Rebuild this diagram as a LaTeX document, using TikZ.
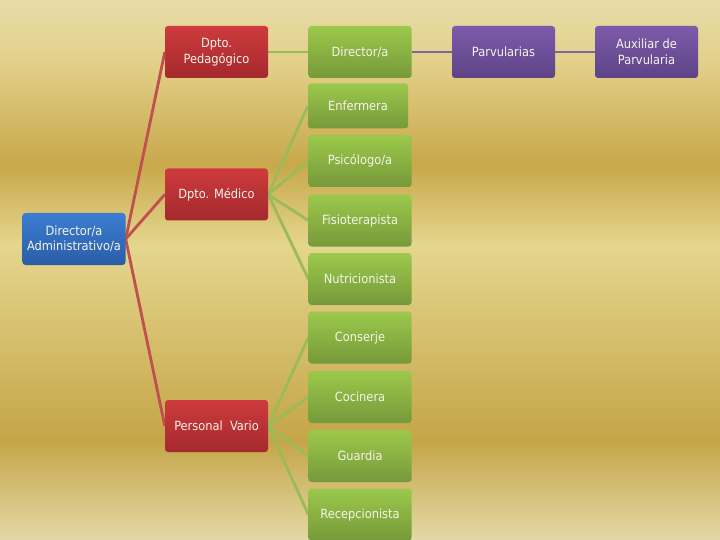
\documentclass[tikz,border=0pt]{standalone}
\usepackage{fontspec}
\setmainfont{DejaVu Sans Condensed}
\definecolor{bgA}{HTML}{E7DBA8}
\definecolor{bgB}{HTML}{E3D18B}
\definecolor{bgC}{HTML}{C8A84B}
\definecolor{bgD}{HTML}{E5D68E}
\definecolor{bgE}{HTML}{C5A548}
\definecolor{bgF}{HTML}{E3D8A6}
\definecolor{redT}{HTML}{CE3B3D}
\definecolor{redB}{HTML}{A4292D}
\definecolor{grnT}{HTML}{9CC94B}
\definecolor{grnB}{HTML}{76993A}
\definecolor{purT}{HTML}{7D5BAB}
\definecolor{purB}{HTML}{5E4386}
\definecolor{bluT}{HTML}{3C7DD2}
\definecolor{bluB}{HTML}{2A5DA6}
\definecolor{redL}{HTML}{C0504D}
\definecolor{grnL}{HTML}{9BBB59}
\definecolor{purL}{HTML}{8064A2}
\definecolor{txt}{HTML}{F6F4EA}
\pgfdeclarelayer{bg}
\pgfdeclarelayer{lines}
\pgfsetlayers{bg,lines,main}
\tikzset{
  box/.style={rounded corners=3pt, minimum width=103pt, minimum height=52pt,
    align=center, text=txt, font=\fontsize{12.7}{15.5}\selectfont, inner sep=1pt},
  redbox/.style={box, top color=redT, bottom color=redB},
  grnbox/.style={box, top color=grnT, bottom color=grnB},
  purbox/.style={box, top color=purT, bottom color=purB},
  blubox/.style={box, top color=bluT, bottom color=bluB},
  redline/.style={draw=redL, line width=2.8pt},
  grnline/.style={draw=grnL, line width=2.8pt},
  purline/.style={draw=purL, line width=2.8pt},
}
\begin{document}
\begin{tikzpicture}[x=1pt,y=-1pt]
\useasboundingbox (0,0) rectangle (720,540);
\begin{pgfonlayer}{bg}
\shade[top color=bgA, bottom color=bgB] (0,0) rectangle (720,60);
\shade[top color=bgB, bottom color=bgC] (0,60) rectangle (720,165);
\shade[top color=bgC, bottom color=bgD] (0,165) rectangle (720,245);
\shade[top color=bgD, bottom color=bgE] (0,245) rectangle (720,440);
\shade[top color=bgE, bottom color=bgF] (0,440) rectangle (720,540);
\end{pgfonlayer}

\node[blubox] (adm) at (74,239) {Director/a\\Administrativo/a};
\node[redbox] (ped) at (216.5,52) {Dpto.\\Pedagógico};
\node[redbox] (med) at (216.5,194.5) {Dpto. Médico};
\node[redbox] (var) at (216.5,426) {Personal\ \ Vario};

\node[grnbox] (dir) at (360,52) {Director/a};
\node[purbox] (par) at (503.5,52) {Parvularias};
\node[purbox] (aux) at (646.5,52) {Auxiliar de\\Parvularia};

\node[grnbox, minimum height=45pt, minimum width=100pt] (enf) at (358,106) {Enfermera};
\node[grnbox] (psi) at (360,161) {Psicólogo/a};
\node[grnbox] (fis) at (360,220.5) {Fisioterapista};
\node[grnbox] (nut) at (360,279) {Nutricionista};
\node[grnbox] (con) at (360,337.5) {Conserje};
\node[grnbox] (coc) at (360,397) {Cocinera};
\node[grnbox] (gua) at (360,456) {Guardia};
\node[grnbox] (rec) at (360,514.5) {Recepcionista};

\begin{pgfonlayer}{lines}
\draw[redline] (adm.east) -- (ped.west);
\draw[redline] (adm.east) -- (med.west);
\draw[redline] (adm.east) -- (var.west);
\draw[grnline] (ped.east) -- (dir.west);
\draw[purline] (dir.east) -- (par.west);
\draw[purline] (par.east) -- (aux.west);
\foreach \n in {enf,psi,fis,nut} \draw[grnline] (med.east) -- (\n.west);
\foreach \n in {con,coc,gua,rec} \draw[grnline] (var.east) -- (\n.west);
\end{pgfonlayer}
\end{tikzpicture}
\end{document}
